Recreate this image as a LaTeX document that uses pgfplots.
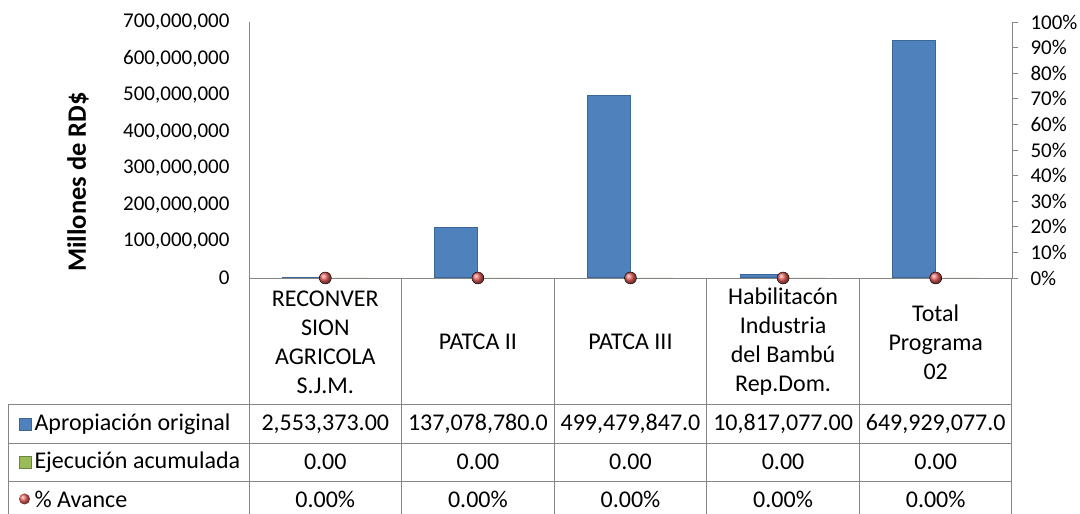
\documentclass[border=0pt]{standalone}
\usepackage{fontspec}
\setmainfont{Carlito}
\usepackage{pgfplots}
\usepackage{pgfplotstable}
\pgfplotsset{compat=1.18}
\definecolor{axgray}{HTML}{868686}
\definecolor{barblue}{HTML}{4F81BD}
\definecolor{baredge}{HTML}{3A6796}
\definecolor{bargreen}{HTML}{9BBB59}
\definecolor{dotred}{HTML}{E8605B}

\pgfplotstableread{
x apropiacion ejecucion avance
1 2553373 0 0
2 137078780 0 0
3 499479847 0 0
4 10817077 0 0
5 649929077 0 0
}\datatable

\pgfplotsset{
    base/.style={
        scale only axis,
        width=763pt, height=256pt,
        at={(249pt,236pt)}, anchor=south west,
        xmin=0.5, xmax=5.5,
        clip=false,
        tick label style={font=\fontsize{21}{25}\selectfont},
        axis line style={draw=axgray, line width=0.8pt},
    },
}

\begin{document}
\begin{tikzpicture}[x=1pt, y=1pt, font=\fontsize{24}{29}\selectfont]
\path[use as bounding box] (0,0) rectangle (1080,514);

% money axis, bars
\begin{axis}[
    base,
    ymin=0, ymax=700000000,
    axis x line*=bottom, axis y line*=left,
    xtick=\empty,
    ytick={0,100000000,200000000,300000000,400000000,500000000,600000000,700000000},
    major tick length=0pt,
    scaled y ticks=false,
    yticklabel style={xshift=-16pt, /pgf/number format/.cd, fixed, 1000 sep={,}, assume math mode=true},
    bar width=43pt,
]
\addplot[ybar, bar shift=-21.5pt, fill=barblue, draw=baredge, line width=1pt] table[x=x, y=apropiacion]{\datatable};
\addplot[ybar, bar shift=21.5pt, fill=bargreen, draw=none] table[x=x, y=ejecucion]{\datatable};

% category header cells
\node[align=center, yshift=-64pt] at (axis cs:1,0) {RECONVER\\SION\\AGRICOLA\\S.J.M.};
\node[align=center, yshift=-64pt] at (axis cs:2,0) {PATCA II};
\node[align=center, yshift=-64pt] at (axis cs:3,0) {PATCA III};
\node[align=center, yshift=-64pt] at (axis cs:4,0) {Habilitacón\\Industria\\del Bambú\\Rep.Dom.};
\node[align=center, yshift=-64pt] at (axis cs:5,0) {Total\\Programa\\02};

% data table values
\node[yshift=-146pt] at (axis cs:1,0) {2,553,373.00};
\node[yshift=-146pt] at (axis cs:2,0) {137,078,780.0};
\node[yshift=-146pt] at (axis cs:3,0) {499,479,847.0};
\node[yshift=-146pt] at (axis cs:4,0) {10,817,077.00};
\node[yshift=-146pt] at (axis cs:5,0) {649,929,077.0};
\foreach \i in {1,...,5} {
    \edef\tmp{\noexpand\node[yshift=-184pt] at (axis cs:\i,0) {0.00};}\tmp
    \edef\tmp{\noexpand\node[yshift=-221pt] at (axis cs:\i,0) {0.00\noexpand\%};}\tmp
}
\end{axis}

% percent axis, markers
\begin{axis}[
    base,
    ymin=0, ymax=1,
    axis x line=none, axis y line*=right,
    ytick={0,0.1,0.2,0.3,0.4,0.5,0.6,0.7,0.8,0.9,1},
    yticklabels={0\%,10\%,20\%,30\%,40\%,50\%,60\%,70\%,80\%,90\%,100\%},
    tick align=outside,
    major tick length=6pt,
    tick style={draw=axgray, line width=0.8pt},
    yticklabel style={xshift=9pt},
]
\addplot[only marks, mark=ball, mark size=6pt, mark options={ball color=dotred}] table[x=x, y=avance]{\datatable};
\end{axis}

% y label
\node[rotate=90, font=\bfseries\fontsize{26.5}{30}\selectfont] at (78,332) {Millones de RD\$};

% data table grid
\begin{scope}[draw=axgray, line width=0.8pt]
\draw (8,110) -- (1011.5,110);
\draw (8,71) -- (1011.5,71);
\draw (8,33) -- (1011.5,33);
\draw (8,110) -- (8,0);
\foreach \x in {249,401.5,554,706.5,859,1011.5} \draw (\x,236) -- (\x,0);
\end{scope}

% row headers with legend keys
\fill[barblue, draw=baredge, line width=0.4pt] (19,84) rectangle (31,96);
\node[anchor=west] at (31,90) {Apropiación original};
\fill[bargreen, draw=bargreen!70!black, line width=0.4pt] (19,46) rectangle (31,58);
\node[anchor=west] at (31,52) {Ejecución acumulada};
\shade[ball color=dotred] (24.5,15) circle (5.5);
\node[anchor=west] at (31,15) {\% Avance};
\end{tikzpicture}
\end{document}
